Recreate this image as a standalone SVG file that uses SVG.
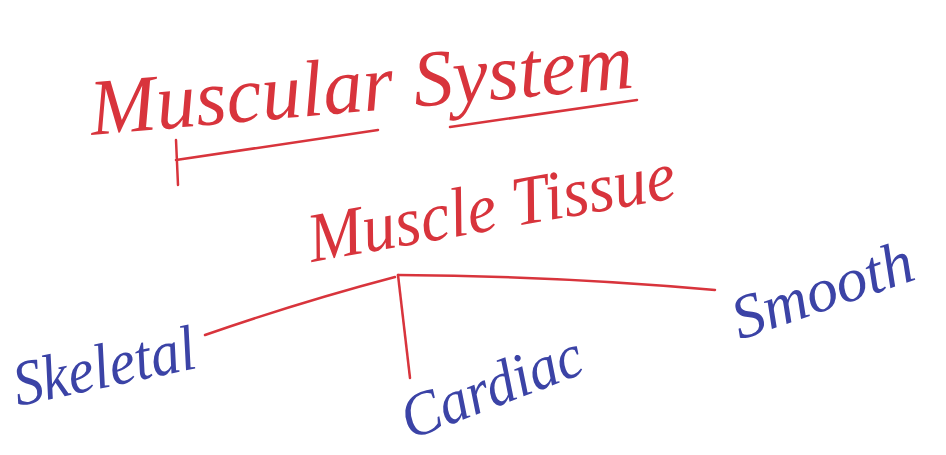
<svg xmlns="http://www.w3.org/2000/svg" width="946" height="455" viewBox="0 0 946 455">
<style>
.red{fill:#d8343c;font-family:"Liberation Serif",serif;font-style:italic}
.blue{fill:#3b43a6;font-family:"Liberation Serif",serif;font-style:italic}
.ln{fill:none;stroke:#d8343c;stroke-width:2.5;stroke-linecap:round}
</style>
<rect width="946" height="455" fill="#ffffff"/>
<g id="muscular-system">
<text class="red" x="92" y="135" font-size="80" textLength="545" lengthAdjust="spacingAndGlyphs" transform="rotate(-5 92 135)">Muscular System</text>
<path class="ln" d="M176,140 L178,185 M176,160 L378,130 M450,127 L637,100"/>
</g>
<g id="muscle-tissue">
<text class="red" x="312" y="262" font-size="70" textLength="372" lengthAdjust="spacingAndGlyphs" transform="rotate(-10 312 262)">Muscle Tissue</text>
</g>
<g id="skeletal">
<text class="blue" x="18" y="406" font-size="64" textLength="185" lengthAdjust="spacingAndGlyphs" transform="rotate(-12 18 406)">Skeletal</text>
</g>
<g id="cardiac">
<text class="blue" x="410" y="440" font-size="62" textLength="190" lengthAdjust="spacingAndGlyphs" transform="rotate(-21 410 440)">Cardiac</text>
</g>
<g id="smooth">
<text class="blue" x="740" y="340" font-size="62" textLength="188" lengthAdjust="spacingAndGlyphs" transform="rotate(-19 740 340)">Smooth</text>
</g>
<g id="connectors">
<path class="ln" d="M398,275 Q560,276 715,290"/>
<path class="ln" d="M398,275 L410,378"/>
<path class="ln" d="M395,277 Q300,302 205,335"/>
</g>
</svg>
